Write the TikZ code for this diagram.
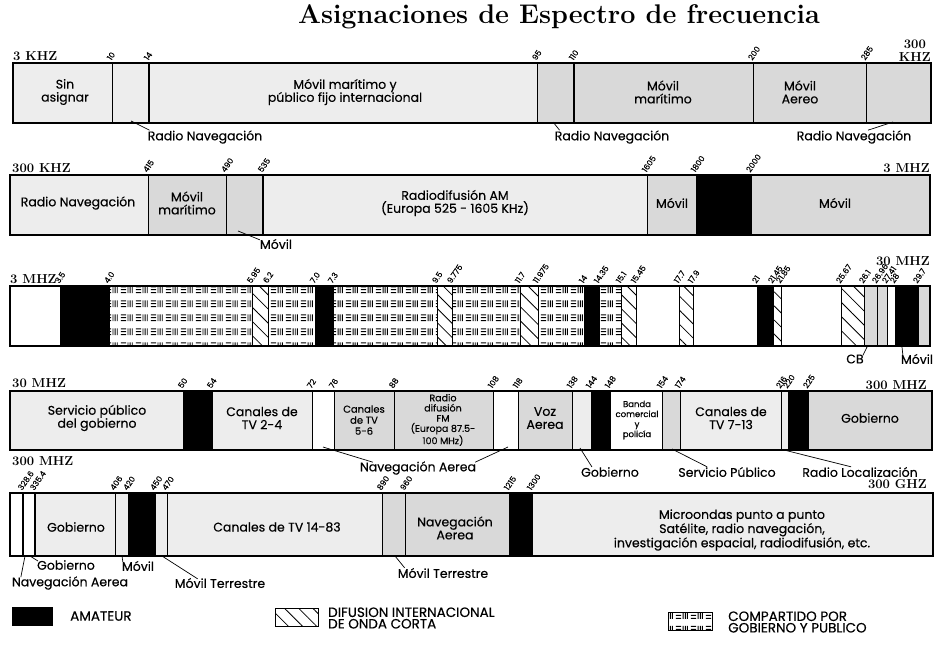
\documentclass[tikz,border=0pt]{standalone}
\usepackage{fontspec}
\newfontfamily\geo{Poppins}[FakeBold=0.3]
\usetikzlibrary{patterns.meta,calc}

\tikzdeclarepattern{
	name=compartido,
	type=uncolored,
	bottom left={(0pt,0pt)},
	top right={(15pt,13.5pt)},
	tile size={(15pt,13.5pt)},
	code={
		\draw[line width=1pt] (1pt,3.5pt) -- (6.5pt,3.5pt) (1pt,6.5pt) -- (6.5pt,6.5pt) (1pt,9.5pt) -- (6.5pt,9.5pt);
		\draw[line width=1pt] (8.5pt,3pt) -- (8.5pt,10pt) (10.8pt,3pt) -- (10.8pt,10pt) (13pt,3pt) -- (13pt,10pt);
	}
}

\tikzset{
	banda/.style={draw, line width=0.9pt},
	claro/.style={banda, fill=gray!14},
	gris/.style={banda, fill=gray!30},
	blanco/.style={banda, fill=white},
	amateur/.style={banda, fill=black},
	onda/.style={banda, pattern={Lines[angle=-45,distance=10pt,line width=0.8pt]}},
	compart/.style={banda, pattern=compartido},
	marco/.style={draw, line width=1.2pt},
	grueso/.style={line width=2pt},
	texto/.style={font=\geo\fontsize{12.5}{13}\selectfont, align=center, inner sep=1pt},
	chico/.style={font=\geo\fontsize{10}{11}\selectfont, align=center, inner sep=1pt},
	marca/.style={font=\geo\fontsize{8}{9}\selectfont, rotate=55, anchor=south west, inner sep=0.5pt, xshift=-1pt},
	extremo/.style={font=\bfseries\fontsize{13}{13}\selectfont, align=center, inner sep=0pt},
	titulo/.style={font=\bfseries\fontsize{27}{28}\selectfont, inner sep=0pt},
	leyenda/.style={font=\geo\fontsize{13.5}{11.5}\selectfont, align=left, anchor=west, inner sep=0pt},
	guia/.style={line width=0.7pt},
}

\begin{document}
\begin{tikzpicture}[x=1pt,y=-1pt]
	\useasboundingbox (0,0) rectangle (935,649);

	\node[titulo] (tit) at (559,17) {Asignaciones de Espectro de frecuencia};

	% fila 1: 3 KHZ - 300 KHZ
	\foreach \a/\b/\s in {13/112/claro,112/149/claro,149/537/claro,537/574/gris,574/753/gris,753/866/gris,866/931/gris}
		\draw[\s] (\a,63) rectangle (\b,123);
	\draw[grueso] (149,63) -- (149,123) (574,63) -- (574,123);
	\draw[marco] (13,63) rectangle (931,123);
	\foreach \x/\t in {112/10,149/14,537/95,574/110,753/200,866/285}
		\node[marca] (ma\x) at (\x,61) {\t};
	\node[extremo, anchor=south west] (k3) at (13,61) {3 KHZ};
	\node[extremo, anchor=south east] (k300) at (931,62) {300\\KHZ};

	\node[texto] (sinasig) at (65,92) {Sin\\asignar};
	\node[texto] (movmar1) at (345,92) {Móvil marítimo y\\público fijo internacional};
	\node[texto] (movmar2) at (663,92) {Móvil\\marítimo};
	\node[texto] (movaer) at (800,92) {Móvil\\Aereo};

	\coordinate (rn1) at (131,121);
	\coordinate (rn2) at (553,122);
	\coordinate (rn3) at (893,122);
	\node[texto] (lrn1) at (205,137) {Radio Navegación};
	\node[texto] (lrn2) at (612,137) {Radio Navegación};
	\node[texto] (lrn3) at (854,137) {Radio Navegación};
	\draw[guia] ($(lrn1.north west)+(3,1)$) -- (rn1);
	\draw[guia] ($(lrn2.north west)+(6,1)$) -- (rn2);
	\draw[guia] ($(lrn3.north)+(14,1)$) -- (rn3);

	% fila 2: 300 KHZ - 3 MHZ
	\foreach \a/\b/\s in {10/148/claro,148/226/gris,226/263/gris,263/647/claro,647/696/gris,696/751/amateur,751/930/gris}
		\draw[\s] (\a,175) rectangle (\b,235);
	\draw[grueso] (263,175) -- (263,235);
	\draw[marco] (10,175) rectangle (930,235);
	\foreach \x/\t in {148/415,226/490,263/535,647/1605,696/1800,751/2000}
		\node[marca] (mb\x) at (\x,173) {\t};
	\node[extremo, anchor=south west] (k300b) at (12,173) {300 KHZ};
	\node[extremo, anchor=south east] (m3) at (930,173) {3 MHZ};

	\node[texto] (radnav) at (78,203) {Radio Navegación};
	\node[texto] (movmar3) at (187,203) {Móvil\\marítimo};
	\node[texto] (radam) at (455,203) {Radiodifusión AM\\(Europa 525 - 1605 KHz)};
	\node[texto] (mov1) at (672,203) {Móvil};
	\node[texto] (mov2) at (835,203) {Móvil};

	\coordinate (mv2) at (238,231);
	\node[texto] (lmv2) at (276,244) {Móvil};
	\draw[guia] (mv2) -- ($(lmv2.north west)+(1,2)$);

	% fila 3: 3 MHZ - 30 MHZ
	\foreach \a/\b/\s in {10/60/blanco,60/109/amateur,109/252/compart,252/268/onda,268/315/compart,315/333/amateur,333/437/compart,437/452/onda,452/520/compart,520/538/onda,538/584/compart,584/599/amateur,599/621/compart,621/636/onda,636/679/blanco,679/693/onda,693/757/blanco,757/773/amateur,773/781/onda,781/841/blanco,841/864/onda,864/877/gris,877/887/gris,887/895/blanco,895/918/amateur,918/930/gris}
		\draw[\s] (\a,286) rectangle (\b,346);
	\draw[marco] (10,286) rectangle (930,346);
	\foreach \x/\t in {60/3.5,109/4.0,252/5.95,268/6.2,315/7.0,333/7.3,437/9.5,452/9.775,520/11.7,538/11.975,584/14,599/14.35,621/15.1,636/15.45,679/17.7,693/17.9,757/21,773/21.45,781/21.85,841/25.67,864/26.1,877/26.96,887/27.41,895/28,918/29.7}
		\node[marca] (mc\x) at (\x,284) {\t};
	\node[extremo, anchor=south west] (m3b) at (10,284) {3 MHZ};
	\node[extremo, anchor=south east] (m30) at (930,266) {30 MHZ};

	\coordinate (cb) at (867,347);
	\coordinate (mv3) at (902,347);
	\node[texto] (lcb) at (855,359) {CB};
	\node[texto] (lmv3) at (917,359) {Móvil};
	\draw[guia] (cb) -- ($(lcb.north east)+(-2,2)$);
	\draw[guia] (mv3) -- ($(lmv3.north west)+(3,2)$);

	% fila 4: 30 MHZ - 300 MHZ
	\foreach \a/\b/\s in {10/183/claro,183/212/amateur,212/312/claro,312/334/blanco,334/394/gris,394/493/gris,493/518/blanco,518/572/gris,572/591/claro,591/610/amateur,610/662/blanco,662/680/gris,680/781/claro,781/788/claro,788/808/amateur,808/932/gris}
		\draw[\s] (\a,391) rectangle (\b,450);
	\draw[marco] (10,391) rectangle (932,450);
	\foreach \x/\t in {183/50,212/54,312/72,334/76,394/88,493/108,518/118,572/138,591/144,610/148,662/154,680/174,781/216,788/220,808/225}
		\node[marca] (md\x) at (\x,389) {\t};
	\node[extremo, anchor=south west] (m30b) at (12,388) {30 MHZ};
	\node[extremo, anchor=south east] (m300) at (927,390) {300 MHZ};

	\node[texto] (servpub) at (97,418) {Servicio público\\del gobierno};
	\node[texto] (tv24) at (262,418) {Canales de\\TV 2-4};
	\node[chico] (tv56) at (364,420) {Canales\\de TV\\5-6};
	\node[chico, font=\geo\fontsize{9.5}{10.2}\selectfont] (fm) at (443,420) {Radio\\difusión\\FM\\(Europa 87.5-\\100 MHz)};
	\node[texto] (vozaer) at (545,418) {Voz\\Aerea};
	\node[chico, font=\geo\fontsize{8.5}{10}\selectfont] (banda) at (637,420) {Banda\\comercial\\y\\policía};
	\node[texto] (tv713) at (731,418) {Canales de\\TV 7-13};
	\node[texto] (gob1) at (870,418) {Gobierno};

	\coordinate (na1) at (323,447);
	\coordinate (na2) at (508,447);
	\coordinate (gb2) at (580,448);
	\coordinate (sp) at (672,449);
	\coordinate (rl) at (784,450);
	\node[texto] (lna) at (418,468) {Navegación Aerea};
	\node[texto] (lgb2) at (610,472) {Gobierno};
	\node[texto] (lsp) at (727,472) {Servicio Público};
	\node[texto] (lrl) at (860,472) {Radio Localización};
	\draw[guia] (na1) -- ($(lna.north west)+(14,2)$);
	\draw[guia] (na2) -- ($(lna.north east)+(-2,2)$);
	\draw[guia] (gb2) -- ($(lgb2.north west)+(12,1)$);
	\draw[guia] (sp) -- ($(lsp.north west)+(30,1)$);
	\draw[guia] (rl) -- ($(lrl.north west)+(50,1)$);

	% fila 5: 300 MHZ - 300 GHZ
	\foreach \a/\b/\s in {10/23/blanco,23/35/blanco,35/115/claro,115/128/claro,128/155/amateur,155/167/claro,167/382/claro,382/405/gris,405/509/gris,509/532/amateur,532/933/claro}
		\draw[\s] (\a,493) rectangle (\b,556);
	\draw[grueso] (23,493) -- (23,556) (35,493) -- (35,556);
	\draw[marco] (10,493) rectangle (933,556);
	\foreach \x/\t in {23/328.6,35/335.4,115/406,128/420,155/450,167/470,382/890,405/960,509/1215,532/1300}
		\node[marca] (me\x) at (\x,491) {\t};
	\node[extremo, anchor=south west] (m300b) at (12,466) {300 MHZ};
	\node[extremo, anchor=south east] (g300) at (927,489) {300 GHZ};

	\node[texto] (gob3) at (76,527) {Gobierno};
	\node[texto] (tv1483) at (277,527) {Canales de TV 14-83};
	\node[texto] (navaer) at (455,528) {Navegación\\Aerea};
	\node[texto] (micro) at (742,530) {Microondas punto a punto\\Satélite, radio navegación,\\investigación espacial, radiodifusión, etc.};

	\coordinate (gb4) at (30,556);
	\coordinate (na5) at (25,556);
	\coordinate (mv5) at (122,556);
	\coordinate (mt1) at (162,556);
	\coordinate (mt2) at (395,556);
	\node[texto] (lgb4) at (66,565) {Gobierno};
	\node[texto] (lna5) at (70,583) {Navegación Aerea};
	\node[texto] (lmv5) at (138,566) {Móvil};
	\node[texto] (lmt1) at (220,583) {Móvil Terrestre};
	\node[texto] (lmt2) at (443,573) {Móvil Terrestre};
	\draw[guia] (gb4) -- ($(lgb4.north west)+(2,2)$);
	\draw[guia] ($(lna5.north west)+(10,2)$) -- (na5);
	\draw[guia] (mv5) -- ($(lmv5.north west)+(2,2)$);
	\draw[guia] (mt1) -- ($(lmt1.north west)+(24,2)$);
	\draw[guia] (mt2) -- ($(lmt2.north west)+(8,1)$);

	% leyenda
	\draw[amateur] (12,607) rectangle (52,625);
	\node[leyenda] (lamat) at (70,616) {AMATEUR};
	\draw[onda] (275,608) rectangle (318,626);
	\node[leyenda] (londa) at (328,618) {DIFUSION INTERNACIONAL\\DE ONDA CORTA};
	\draw[compart] (668,612) rectangle (712,630);
	\node[leyenda] (lcomp) at (728,622) {COMPARTIDO POR\\GOBIERNO Y PUBLICO};

\end{tikzpicture}
\end{document}
